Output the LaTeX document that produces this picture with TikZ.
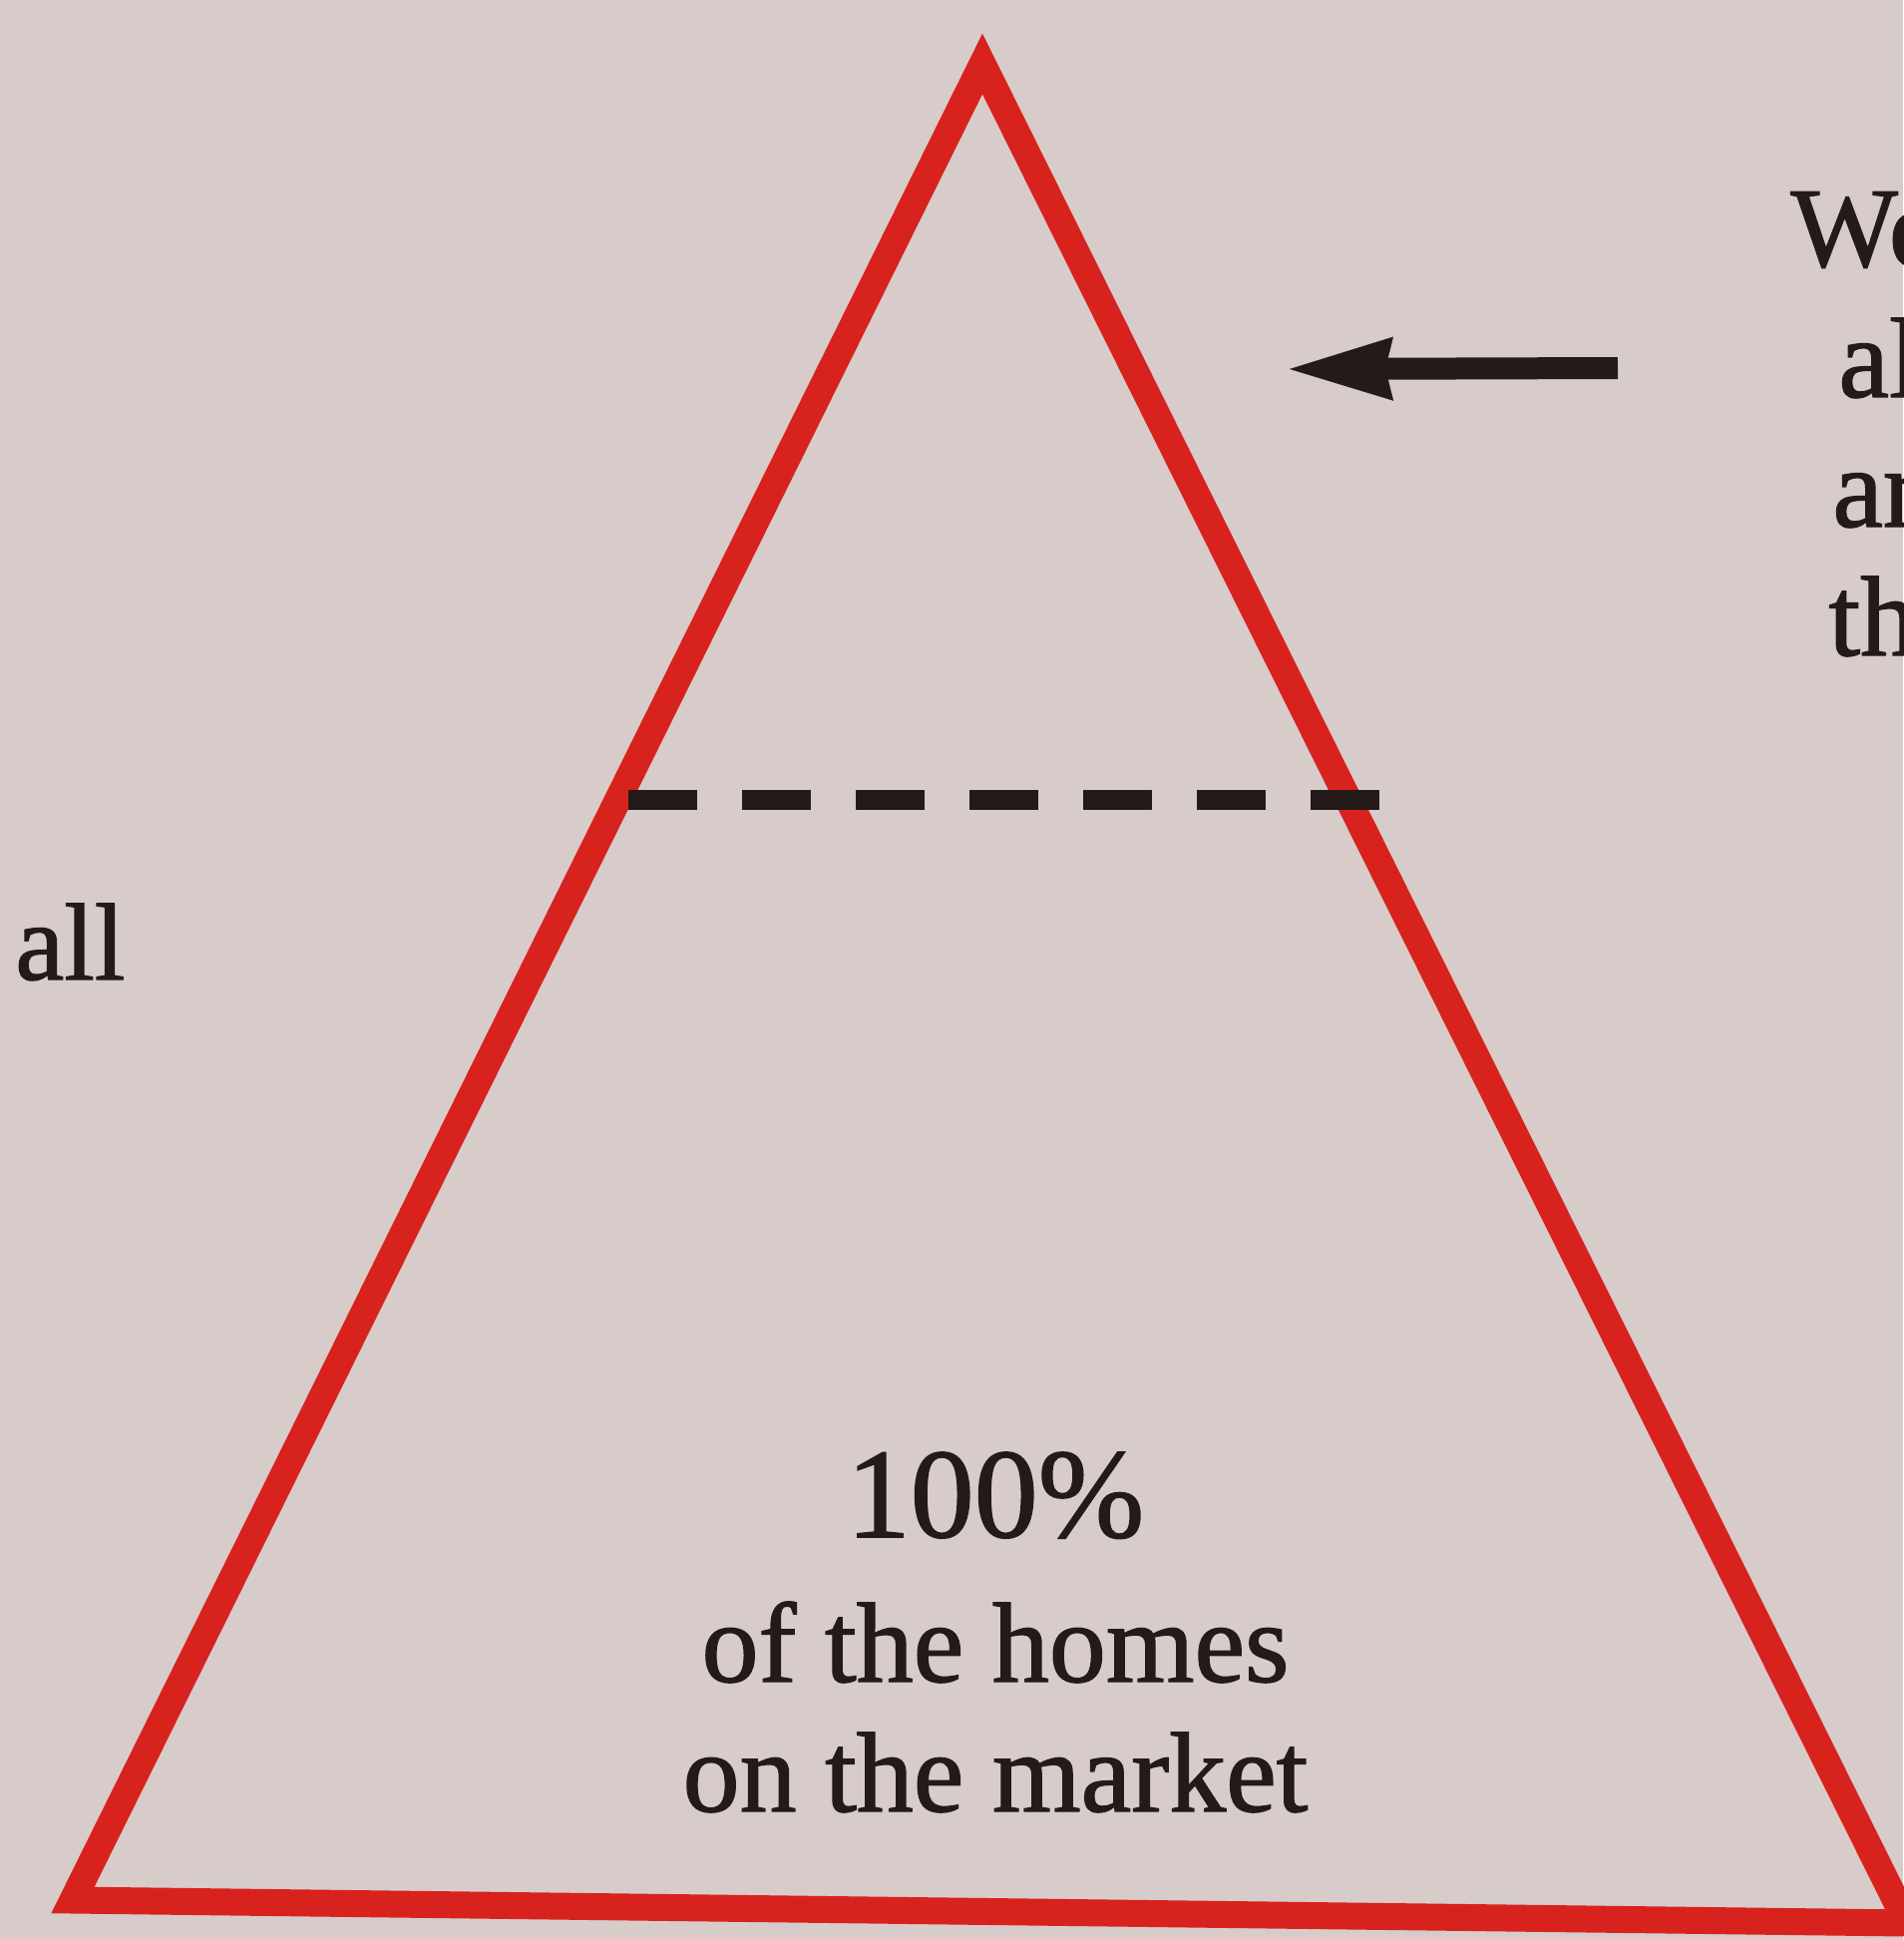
\documentclass[tikz,border=0pt]{standalone}
\usepackage{fontspec}
\setmainfont{Liberation Serif}[FakeBold=1.2]
\usetikzlibrary{arrows.meta}
\definecolor{paper}{RGB}{215,204,202}
\definecolor{tri}{RGB}{216,34,30}
\definecolor{ink}{RGB}{36,26,26}
\begin{document}
\begin{tikzpicture}[x=0.5pt,y=-0.5pt,
  txt/.style={inner sep=0pt, text=ink, font=\fontsize{57pt}{65pt}\selectfont},
  triline/.style={draw=tri, line width=13.5pt, line join=miter},
  dashline/.style={draw=ink, line width=10pt, dash pattern=on 34.5pt off 22.5pt},
  arrowline/.style={draw=ink, line width=11pt, -{Stealth[length=52pt,width=32pt,inset=4pt,line width=0.1pt]}}]
\fill[paper] (0,0) rectangle (1908,1944);
\useasboundingbox (0,0) rectangle (1908,1944);
\coordinate (A) at (985,64);
\coordinate (B) at (73,1905);
\coordinate (C) at (1912,1928);
\draw[triline] (A) -- (B) -- (C) -- cycle;
\coordinate (dL) at (630,802);
\coordinate (dR) at (1385,802);
\draw[dashline] (dL) -- (dR);
\coordinate (arrtail) at (1622,369);
\coordinate (arrtip) at (1293,370);
\draw[arrowline] (arrtail) -- (arrtip);
\node[txt, anchor=base west] (wo) at (1795,267) {Wo};
\node[txt, anchor=base west] (al) at (1843,398) {al};
\node[txt, anchor=base west] (ar) at (1837,528) {ar};
\node[txt, anchor=base west] (th) at (1833,657) {th};
\node[txt, anchor=base west, font=\fontsize{55pt}{60pt}\selectfont] (all) at (15,982) {all};
\node[txt, anchor=base, font=\fontsize{64pt}{70pt}\selectfont] (pct) at (998,1541) {100\%};
\node[txt, anchor=base] (l1) at (998,1686) {of the homes};
\node[txt, anchor=base] (l2) at (998,1816) {on the market};
\end{tikzpicture}
\end{document}
